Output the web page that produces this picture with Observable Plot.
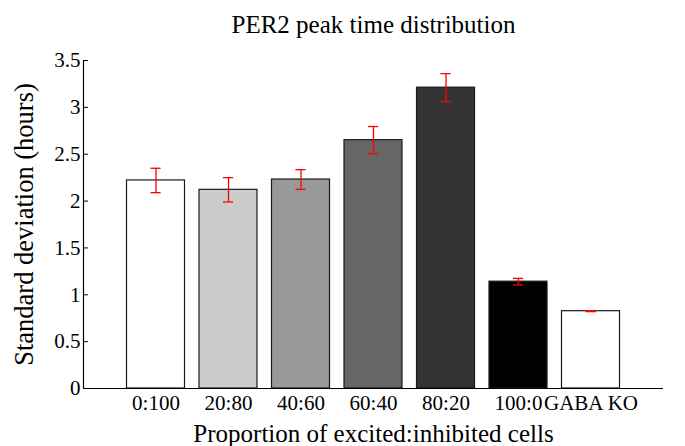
<!DOCTYPE html>
<html>
<head>
<meta charset="utf-8">
<script src="https://cdn.jsdelivr.net/npm/d3@7"></script>
<script src="https://cdn.jsdelivr.net/npm/@observablehq/plot@0.6"></script>
<style>
  html, body { margin: 0; padding: 0; background: #fff; }
</style>
</head>
<body>
<div id="chart"></div>
<script>
const categories = ["0:100", "20:80", "40:60", "60:40", "80:20", "100:0", "GABA KO"];
const values = [2.22, 2.12, 2.23, 2.65, 3.21, 1.14, 0.825];
const errors = [0.13, 0.13, 0.105, 0.145, 0.15, 0.035, 0.005];
const yTicks = [0, 0.5, 1, 1.5, 2, 2.5, 3, 3.5];
const barColors = ["#ffffff", "#cccccc", "#999999", "#666666", "#333333", "#000000", "#ffffff"];
const title = "PER2 peak time distribution";
const xLabel = "Proportion of excited:inhibited cells";
const yLabel = "Standard deviation (hours)";

const data = categories.map((c, i) => ({cat: c, pos: i + 1, value: values[i], err: errors[i]}));
const half = 0.4;
const cap = 0.07;

const chart = Plot.plot({
  width: 685,
  height: 446,
  marginTop: 60,
  marginBottom: 58,
  marginLeft: 83,
  marginRight: 22,
  style: {fontFamily: "'Liberation Serif', 'Times New Roman', serif", fontSize: "21px", background: "#fff", color: "#000"},
  x: {type: "linear", domain: [0, categories.length + 1], axis: null},
  y: {domain: [0, 3.5], axis: null},
  color: {type: "ordinal", domain: categories, range: barColors},
  marks: [
    Plot.rectY(data, {x1: d => d.pos - half, x2: d => d.pos + half, y1: 0, y2: "value", fill: "cat", stroke: "#1a1a1a", strokeWidth: 1.2}),
    Plot.ruleX(data, {x: "pos", y1: d => d.value - d.err, y2: d => d.value + d.err, stroke: "#ff0000", strokeWidth: 1.3}),
    Plot.ruleY(data, {y: d => d.value + d.err, x1: d => d.pos - cap, x2: d => d.pos + cap, stroke: "#ff0000", strokeWidth: 1.3}),
    Plot.ruleY(data, {y: d => d.value - d.err, x1: d => d.pos - cap, x2: d => d.pos + cap, stroke: "#ff0000", strokeWidth: 1.3}),
    Plot.ruleY([0], {stroke: "#000", strokeWidth: 1.2}),
    Plot.ruleX([0], {stroke: "#000", strokeWidth: 1.2}),
    Plot.axisY({ticks: yTicks, tickFormat: d => String(d), tickSize: -5, tickPadding: 8, fontSize: 21, label: null}),
    Plot.axisX({ticks: d3.range(1, categories.length + 1), tickFormat: d => categories[d - 1], tickSize: 0, tickPadding: 7, fontSize: 21, label: null}),
    Plot.text([title], {frameAnchor: "top", lineAnchor: "top", textAnchor: "middle", dy: -45, fontSize: 25, fill: "#000"}),
    Plot.text([xLabel], {frameAnchor: "bottom", lineAnchor: "bottom", textAnchor: "middle", dy: 53, fontSize: 25, fill: "#000"}),
    Plot.text([yLabel], {frameAnchor: "left", lineAnchor: "middle", textAnchor: "middle", dx: -59, rotate: -90, fontSize: 26.5, fill: "#000"})
  ]
});
document.getElementById("chart").appendChild(chart);
</script>
</body>
</html>
